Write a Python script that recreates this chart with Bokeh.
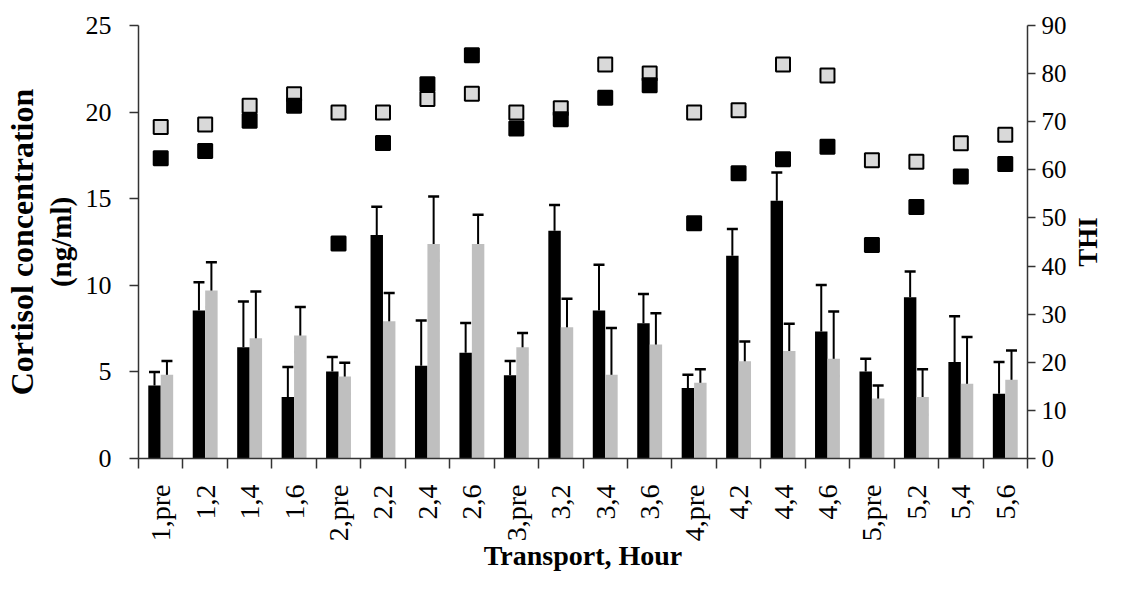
import math
from bokeh.plotting import figure
from bokeh.layouts import row
from bokeh.models import (ColumnDataSource, Range1d, LinearAxis, FixedTicker,
                          Whisker, TeeHead)
from bokeh.embed import file_html
from bokeh.resources import INLINE

# ---------------- data ----------------
categories = ["1,pre", "1,2", "1,4", "1,6", "2,pre", "2,2", "2,4", "2,6",
              "3,pre", "3,2", "3,4", "3,6", "4,pre", "4,2", "4,4", "4,6",
              "5,pre", "5,2", "5,4", "5,6"]

# cortisol, black series (mean and upper error)
cort_black = [4.22, 8.54, 6.43, 3.55, 5.03, 12.90, 5.36, 6.10, 4.80, 13.15,
              8.54, 7.81, 4.07, 11.71, 14.88, 7.33, 5.03, 9.31, 5.57, 3.74]
cort_black_err = [0.77, 1.64, 2.63, 1.73, 0.83, 1.63, 2.61, 1.73, 0.83, 1.48,
                  2.65, 1.69, 0.77, 1.54, 1.63, 2.69, 0.73, 1.48, 2.65, 1.83]

# cortisol, gray series (mean, error bar top and bottom)
cort_gray = [4.84, 9.70, 6.95, 7.10, 4.74, 7.93, 12.38, 12.38, 6.43, 7.58,
             4.84, 6.58, 4.38, 5.61, 6.20, 5.76, 3.46, 3.55, 4.32, 4.55]
cort_gray_hi = [5.63, 11.33, 9.64, 8.74, 5.53, 9.56, 15.13, 14.07, 7.24, 9.22,
                7.53, 8.39, 5.15, 6.76, 7.78, 8.49, 4.22, 5.15, 7.01, 6.24]
cort_gray_lo = [3.84, 8.74, 5.99, 6.15, 3.74, 6.97, 11.42, 11.42, 5.43, 6.58,
                3.84, 5.61, 3.42, 4.65, 5.15, 4.76, 2.46, 2.53, 3.30, 3.55]

# THI (right axis)
thi_black = [62.4, 63.9, 70.2, 73.3, 44.7, 65.6, 77.8, 83.8, 68.6, 70.5,
             75.0, 77.6, 48.9, 59.3, 62.2, 64.8, 44.4, 52.3, 58.6, 61.2]
thi_gray = [68.9, 69.4, 73.3, 75.7, 71.9, 71.9, 74.7, 75.8, 71.9, 72.8,
            81.9, 80.0, 71.9, 72.4, 81.9, 79.6, 62.0, 61.7, 65.5, 67.3]

left_ticks = [0, 5, 10, 15, 20, 25]
right_ticks = [0, 10, 20, 30, 40, 50, 60, 70, 80, 90]

x_title = "Transport, Hour"
y_title_1 = "Cortisol concentration"
y_title_2 = "(ng/ml)"
y2_title = "THI"

# ---------------- layout ----------------
n = len(categories)
idx = list(range(n))
bar_w = 0.28
off = 0.14

src = ColumnDataSource(dict(
    xb=[i - off for i in idx],
    xg=[i + off for i in idx],
    xc=idx,
    cb=cort_black,
    cb_up=[m + e for m, e in zip(cort_black, cort_black_err)],
    cg=cort_gray,
    cg_hi=cort_gray_hi,
    cg_lo=cort_gray_lo,
    tb=thi_black,
    tg=thi_gray,
))

FONT = "Liberation Serif"
AXC = "#333333"
W_MAIN = 1069
W_SIDE = 38
H = 574

p = figure(width=W_MAIN, height=H, output_backend="svg", toolbar_location=None,
           x_range=Range1d(-0.5, n - 0.5), y_range=Range1d(0, 25),
           min_border_left=138, min_border_right=39, min_border_top=25,
           min_border_bottom=115, y_axis_location=None, x_axis_location=None)
p.extra_y_ranges = {"thi": Range1d(0, 90)}
p.outline_line_color = None
p.xgrid.visible = False
p.ygrid.visible = False
p.background_fill_color = "white"
p.border_fill_color = "white"

# bars
p.vbar(x="xb", top="cb", bottom=0, width=bar_w, source=src,
       fill_color="black", line_color=None)
p.vbar(x="xg", top="cg", bottom=0, width=bar_w, source=src,
       fill_color="#bfbfbf", line_color=None)

# error bars
wb = Whisker(base="xb", lower="cb", upper="cb_up", source=src,
             line_color="black", line_width=2,
             upper_head=TeeHead(size=11, line_color="black", line_width=2.5),
             lower_head=None)
wg = Whisker(base="xg", lower="cg_lo", upper="cg_hi", source=src,
             line_color="black", line_width=2,
             upper_head=TeeHead(size=11, line_color="black", line_width=2.5),
             lower_head=TeeHead(size=11, line_color="black", line_width=2.5))
p.add_layout(wb)
p.add_layout(wg)

# THI markers
p.scatter(x="xc", y="tg", source=src, marker="square", size=14,
          fill_color="#d9d9d9", line_color="black", line_width=2,
          y_range_name="thi")
p.scatter(x="xc", y="tb", source=src, marker="square", size=14,
          fill_color="black", line_color="black", line_width=2,
          y_range_name="thi")

# x axis
xa = LinearAxis(ticker=FixedTicker(ticks=idx,
                                   minor_ticks=[i - 0.5 for i in range(n + 1)]))
xa.major_label_overrides = {i: c for i, c in zip(idx, categories)}
xa.major_label_orientation = math.pi / 2
xa.major_tick_out = 0
xa.major_tick_in = 0
xa.minor_tick_out = 10
xa.minor_tick_in = 0
xa.minor_tick_line_color = AXC
xa.minor_tick_line_width = 1.5
xa.axis_line_color = AXC
xa.axis_line_width = 1.5
xa.major_label_standoff = 16
xa.major_label_text_font = FONT
xa.major_label_text_font_size = "28px"
xa.major_label_text_color = "black"
xa.axis_label = x_title
xa.axis_label_text_font = FONT
xa.axis_label_text_font_style = "bold"
xa.axis_label_text_font_size = "28px"
xa.axis_label_text_color = "black"
xa.axis_label_standoff = -4
p.add_layout(xa, "below")

# left axis
ya = LinearAxis(ticker=FixedTicker(ticks=left_ticks))
ya.minor_tick_out = 0
ya.minor_tick_in = 0
ya.major_tick_out = 9
ya.major_tick_in = 0
ya.major_tick_line_color = AXC
ya.major_tick_line_width = 1.5
ya.axis_line_color = AXC
ya.axis_line_width = 1.5
ya.major_label_standoff = 18
ya.major_label_text_font = FONT
ya.major_label_text_font_size = "26px"
ya.major_label_text_color = "black"
ya.axis_label = y_title_2
ya.axis_label_text_font = FONT
ya.axis_label_text_font_style = "bold"
ya.axis_label_text_font_size = "29px"
ya.axis_label_text_color = "black"
ya.axis_label_standoff = 6
p.add_layout(ya, "left")

ya2 = LinearAxis(ticker=FixedTicker(ticks=[]))
ya2.axis_line_color = None
ya2.major_tick_line_color = None
ya2.minor_tick_line_color = None
ya2.major_label_text_font_size = "0px"
ya2.axis_label = y_title_1
ya2.axis_label_text_font = FONT
ya2.axis_label_text_font_style = "bold"
ya2.axis_label_text_font_size = "32px"
ya2.axis_label_text_color = "black"
ya2.axis_label_standoff = 2
p.add_layout(ya2, "left")

# right axis (THI scale)
ra = LinearAxis(y_range_name="thi", ticker=FixedTicker(ticks=right_ticks))
ra.minor_tick_out = 0
ra.minor_tick_in = 0
ra.major_tick_out = 8
ra.major_tick_in = 0
ra.major_tick_line_color = AXC
ra.major_tick_line_width = 1.5
ra.axis_line_color = AXC
ra.axis_line_width = 1.5
ra.major_label_standoff = 6
ra.major_label_text_font = FONT
ra.major_label_text_font_size = "25px"
ra.major_label_text_color = "black"
p.add_layout(ra, "right")

# narrow side panel carrying the "THI" title, reading bottom-to-top
s = figure(width=W_SIDE, height=H, output_backend="svg", toolbar_location=None,
           x_range=Range1d(0, 1), y_range=Range1d(0, 90),
           min_border_left=0, min_border_right=0, min_border_top=25,
           min_border_bottom=115, x_axis_location=None,
           y_axis_location="left")
s.outline_line_color = None
s.xgrid.visible = False
s.ygrid.visible = False
s.border_fill_color = "white"
s.background_fill_color = "white"
s.yaxis.ticker = FixedTicker(ticks=[])
s.yaxis.axis_line_color = None
s.yaxis.major_tick_line_color = None
s.yaxis.minor_tick_line_color = None
s.yaxis.major_label_text_font_size = "0px"
s.yaxis.major_label_standoff = 0
s.yaxis.axis_label = y2_title
s.yaxis.axis_label_text_font = FONT
s.yaxis.axis_label_text_font_style = "bold"
s.yaxis.axis_label_text_font_size = "27px"
s.yaxis.axis_label_text_color = "black"
s.yaxis.axis_label_standoff = 0

layout = row(p, s, spacing=0)

open("out.html", "w").write(file_html(layout, INLINE))
